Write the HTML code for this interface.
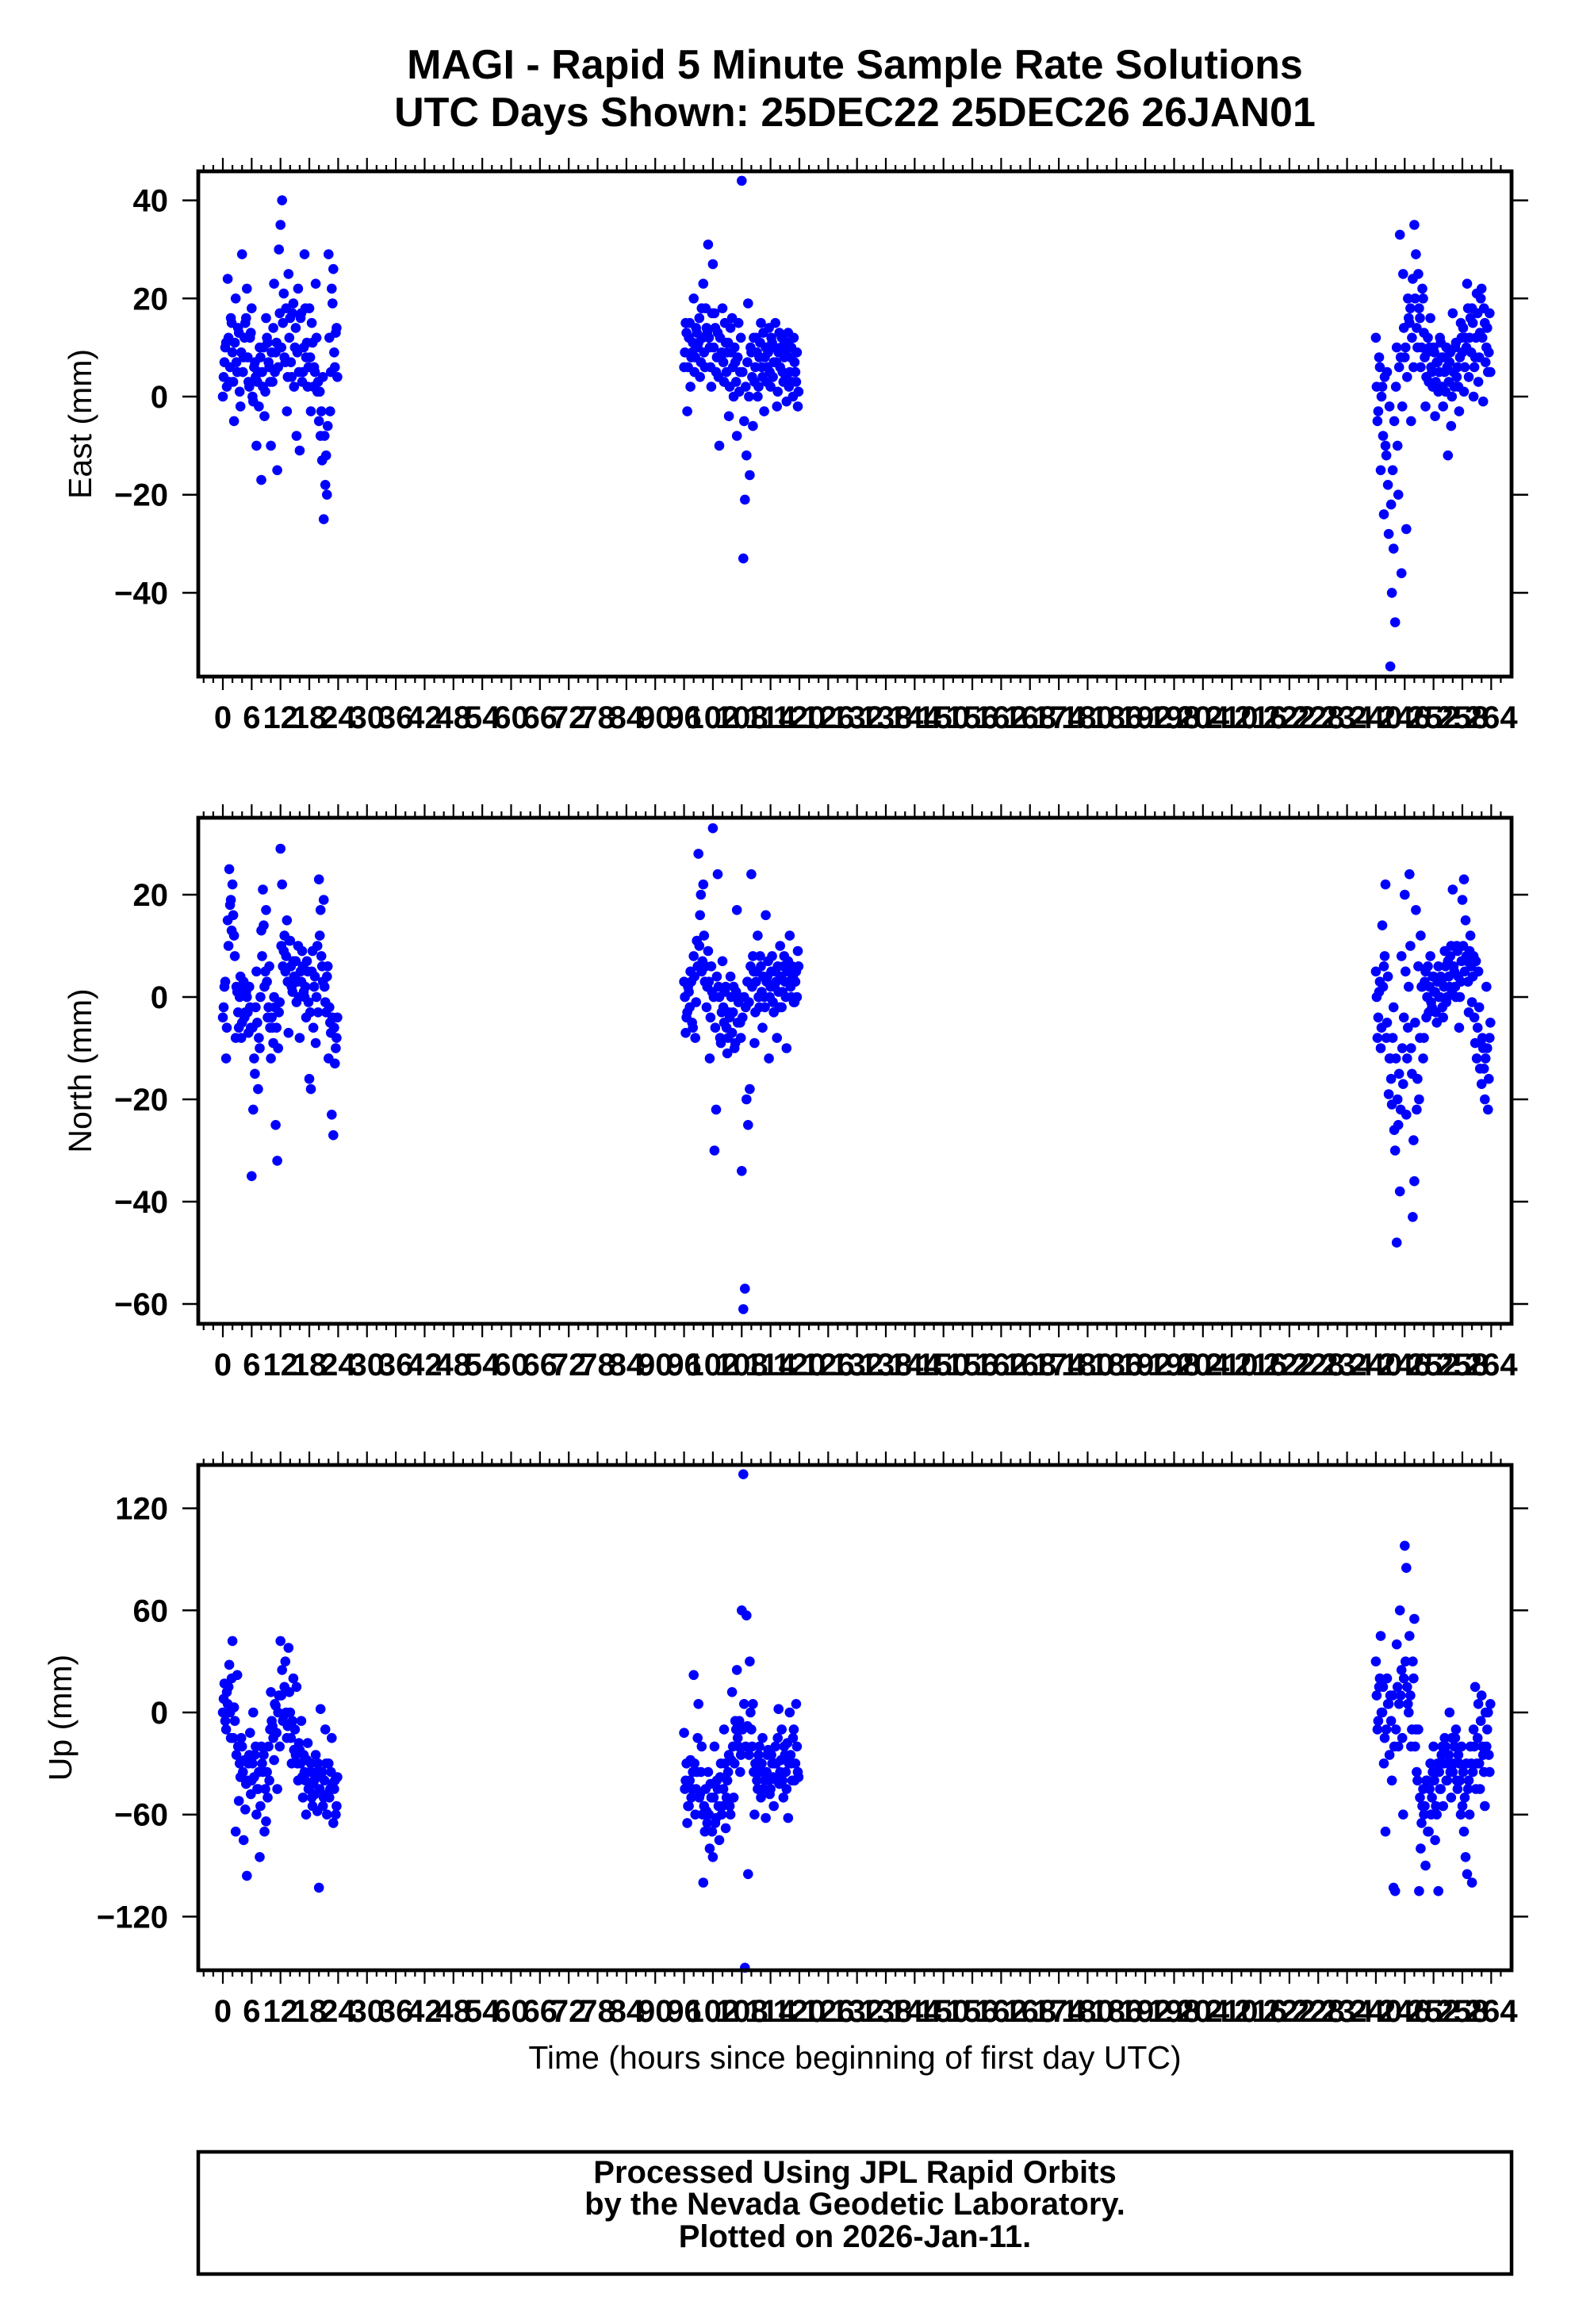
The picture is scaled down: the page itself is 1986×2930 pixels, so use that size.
<!DOCTYPE html>
<html><head><meta charset="utf-8"><style>
html,body{margin:0;padding:0;background:#fff}
svg{display:block}
text{font-family:"Liberation Sans",Arial,sans-serif;fill:#000}
</style></head><body>
<svg id="chart" xmlns="http://www.w3.org/2000/svg" width="1986" height="2930" viewBox="0 0 1986 2930">
<rect width="1986" height="2930" fill="#fff"/>
<text x="1078" y="99" text-anchor="middle" font-size="52" font-weight="bold">MAGI - Rapid 5 Minute Sample Rate Solutions</text>
<text x="1078" y="159" text-anchor="middle" font-size="52" font-weight="bold">UTC Days Shown:  25DEC22 25DEC26 26JAN01</text>
<g id="plots"></g>
<text x="1078" y="2608" text-anchor="middle" font-size="41">Time (hours since beginning of first day UTC)</text>
<rect x="250" y="2713" width="1656" height="154" fill="none" stroke="#000" stroke-width="4.5"/>
<text x="1078" y="2752" text-anchor="middle" font-size="40" font-weight="bold">Processed Using JPL Rapid Orbits</text>
<text x="1078" y="2792" text-anchor="middle" font-size="40" font-weight="bold">by the Nevada Geodetic Laboratory.</text>
<text x="1078" y="2833" text-anchor="middle" font-size="40" font-weight="bold">Plotted on 2026-Jan-11.</text>
</svg>
<script>
// Day start offsets (hours) and epoch hours within a day
const dayStarts = [0, 96, 240];
const hoursOfDay = [0,0.33,0.67,1,1.33,1.67,2,2.33,2.67,3,3.33,3.67,4,4.33,4.67,5,5.33,5.67,6,6.33,6.67,7,7.33,7.67,8,8.33,8.67,9,9.33,9.67,10,10.33,10.67,11,11.33,11.67,12,12.33,12.67,13,13.33,13.67,14,14.33,14.67,15,15.33,15.67,16,16.33,16.67,17,17.33,17.67,18,18.33,18.67,19,19.33,19.67,20,20.33,20.67,21,21.33,21.67,22,22.33,22.67,23,23.33,23.67];
const hoursOfDayB = [0.17,0.5,0.83,1.17,1.5,1.83,2.17,2.5,2.83,3.17,3.5,3.83,4.17,4.5,4.83,5.17,5.5,5.83,6.17,6.5,6.83,7.17,7.5,7.83,8.17,8.5,8.83,9.17,9.5,9.83,10.17,10.5,10.83,11.17,11.5,11.83,12.17,12.5,12.83,13.17,13.5,13.83,14.17,14.5,14.83,15.17,15.5,15.83,16.17,16.5,16.83,17.17,17.5,17.83,18.17,18.5,18.83,19.17,19.5,19.83,20.17,20.5,20.83,21.17,21.5,21.83,22.17,22.5,22.83,23.17,23.5,23.83];
const xTickLabels = [0,6,12,18,24,30,36,42,48,54,60,66,72,78,84,90,96,102,108,114,120,126,132,138,144,150,156,162,168,174,180,186,192,198,204,210,216,222,228,234,240,246,252,258,264];

const eastDay1 = [0,7,11, 24,3,16, 9,-5,20, 5,13,-2, 29,8,15, 22,3,12, 18,-1,7, -10,5,10, -17,2,-4, 16,11,6, -10,3,23, 9,-15,30, 35,40,21, 7,-3,25, 16,4,19, 10,-8,22, -11,17,5, 29,8,2, 18,-3,11, 6,23,1, -5,-8,-13, -25,-18,-20, 29,-3,22, 26,6,14];
const eastDay2 = [6,15,-3, 12,2,9, 20,8,13, 11,4,18, 23,6,14, 31,10,2, 27,17,5, 13,-10,8, 18,3,11, 9,-4,14, 16,0,7, -8,15,5, 44,-33,-21, -12,19,-16, 9,-6,3, 12,0,8, 15,4,-3, 10,6,14, 2,11,7, 15,-2,9, 6,12,3, 9,-1,13, 5,10,0, 7,3,-2];
const eastDay3 = [12,-5,8, -15,2,-24, -10,5,-28, -55,-40,-31, -46,10,-20, 33,-36,25, 8,-27,20, 15,-5,24, 35,29,10, 18,6,22, 13,-2,9, 3,16,5, 10,-4,7, 1,12,8, -2,5,10, -12,7,-6, 17,2,11, 6,-3,15, 9,1,12, 23,4,16, 18,0,8, 21,3,13, 22,-1,15, 10,5,17];
const eastDay1B = [4,10,2, 12,6,15, 3,11,7, 14,1,9, 5,12,16, 8,2,13, 0,6,4, 3,-2,8, 5,10,1, 12,7,3, 9,14,5, 11,6,17, 10,15,8, 18,4,12, 7,17,2, 14,9,5, 16,3,10, 18,11,6, 8,15,2, 5,12,3, 1,-3,4, -8,-12,-6, 12,5,19, 9,13,4];
const eastDay2B = [9,13,6, 15,8,11, 5,14,10, 16,7,12, 9,18,13, 12,6,17, 10,14,8, 4,12,9, 7,15,5, 11,2,9, 6,10,3, 8,1,12, 5,-5,2, 7,0,10, 4,12,6, 9,2,11, 6,13,8, 3,9,5, 12,4,10, 7,1,13, 10,5,8, 4,11,2, 8,3,12, 5,9,1];
const eastDay3B = [2,-3,6, 0,-8,4, -12,-18,-2, -22,-15,-5, 2,-10,6, 8,-2,14, 10,4,16, 18,12,6, 20,14,25, 16,10,20, 8,4,12, 10,6,2, 9,3,7, 5,11,2, 8,1,6, 3,9,0, 5,10,4, 2,8,12, 14,6,10, 18,12,9, 15,6,12, 17,8,20, 12,18,7, 14,9,5];

const northDay1 = [-4,2,-12, 15,25,19, 22,12,-8, 1,-6,4, -5,3,-3, 0,-7,-2, -35,-22,-15, 5,-18,-10, 13,21,2, 17,-4,6, -12,-6,0, -25,-32,-3, 29,22,9, 5,15,-7, 11,2,7, 4,-1,10, -8,3,6, 0,-4,5, -16,-18,9, 2,-9,10, 23,17,6, 19,-1,4, -12,-5,-23, -27,-13,-8];
const northDay2 = [3,-7,-3, 1,5,-5, 8,-8,11, 28,16,5, 22,3,-2, 9,-12,6, 33,-30,-22, 24,0,-9, 7,-5,2, -11,-3,4, -7,2,-9, 17,-1,-5, -34,-61,-57, -20,-25,-18, 24,8,-9, 3,12,-2, 6,-6,0, 16,4,-12, 2,8,-3, 5,-8,1, 10,-2,6, 3,-10,7, 12,0,4, -1,5,9];
const northDay3 = [5,-8,1, -10,14,6, 22,-5,-19, -12,-21,-2, -30,-48,-25, -38,8,-17, 20,-23,-6, 24,-10,-43, -36,17,-16, -20,12,2, -8,5,0, -3,8,-2, 4,1,-5, 6,0,3, -4,9,-1, 7,2,10, 21,5,0, 9,-6,3, 19,23,15, 7,-3,12, -1,8,-9, -12,5,-14, -17,-10,-20, 2,-22,-8];
const northDay1B = [-2,3,-6, 10,18,13, 16,8,2, -3,0,-8, 2,-4,1, -3,2,-6, -6,-12,-2, -5,-8,0, 8,14,5, 3,-2,-6, -4,-9,-2, -6,-10,-1, 10,6,12, 8,3,11, 6,1,4, 7,3,0, 5,9,1, 2,7,-1, -3,5,-6, 4,0,-3, 12,8,3, 2,-3,6, -2,-7,-4, -6,-10,-4];
const northDay2B = [0,-4,2, -2,3,-6, 4,-1,6, 10,20,7, 12,6,2, 3,-4,1, 0,-6,4, 2,-8,-3, -2,1,-6, -8,-4,0, -3,-10,1, -5,0,-8, -4,0,-2, 3,-1,6, 2,5,-3, 5,0,8, 1,4,-2, 3,7,0, 5,-1,2, 3,6,-2, 4,1,8, 0,5,3, 2,6,-1, 3,0,6];
const northDay3B = [0,-4,3, -6,2,8, -8,4,-12, -16,-8,-26, -12,-20,-15, -22,-10,-4, 5,-12,2, 10,-15,-28, -5,-22,6, -8,2,-12, 3,-4,6, 2,-1,4, 1,-3,3, 0,4,-2, 2,6,0, 4,8,1, 6,2,10, 4,0,7, 10,5,8, 3,9,6, 4,-4,7, -6,-2,-9, -8,-14,-12, -10,-16,-5];

const upDay1 = [0,17,-10, 5,28,-15, 42,3,-70, 22,-52,-38, -20,-75,-57, -96,-30,-12, -40,0,-25, -60,-45,-85, -20,-35,-70, -64,-50,-40, 12,-8,-28, 4,-45,10, 42,25,-2, 30,-15,38, 0,-30,20, -10,15,-40, -22,-5,-50, -35,-60,-18, -45,-30,-55, -40,-25,-58, -103,2,-35, -50,-10,-60, -30,-45,-15, -65,-40,-55];
const upDay2 = [-12,-40,-65, -55,-28,-45, 22,-60,-35, 5,-48,-20, -100,-70,-58, -35,-80,-50, -85,-20,-62, -45,-75,-30, -55,-10,-68, -40,-25,-60, 12,-50,-5, 25,-20,-35, 60,140,-150, 57,-95,30, -10,5,-60, -30,-45,-20, -50,-15,-35, -62,-25,-40, -45,-30,-55, -20,-40,2, -35,-10,-50, -25,-45,-62, 0,-30,-15, -40,5,-35];
const upDay3 = [30,-10,15, 45,0,-30, -70,20,5, 10,-40,-103, -105,40,-20, 60,25,-60, 98,85,5, 45,-20,30, 55,-10,-40, -105,-80,-55, -60,-90,-40, -70,-30,-50, -20,-75,-60, -105,-45,-25, -55,-15,-40, -30,0,-50, -35,-20,-10, -45,-30,-60, -55,-70,-85, -95,-40,-20, -100,-10,15, -30,5,-45, 10,-25,-55, -20,0,-35];
const upDay1B = [8,-5,12, 15,0,20, -15,-5,-25, -20,-30,-15, -35,-28,-42, -40,-25,-48, -30,-38,-20, -45,-35,-55, -30,-25,-45, -35,-20,-10, -5,-15,5, -12,0,-20, 10,-5,15, 0,-8,12, -15,-5,-22, -25,-30,-18, -30,-38,-25, -40,-28,-45, -35,-50,-42, -48,-35,-30, -45,-38,-55, -40,-30,-48, -50,-35,-42, -45,-60,-38];
const upDay2B = [-45,-30,-55, -40,-50,-35, -30,-45,-15, -50,-35,-60, -55,-45,-65, -60,-42,-70, -50,-65,-40, -55,-38,-60, -45,-30,-50, -35,-55,-28, -20,-30,-10, -15,-5,-25, -10,5,-20, -8,-25,0, -20,-35,-30, -40,-25,-35, -30,-45,-40, -35,-22,-48, -25,-38,-30, -30,-15,-42, -28,-40,-20, -35,-18,-30, -25,-40,-10, -30,-20,-38];
const upDay3B = [10,-5,20, 0,15,-15, -10,5,-25, -5,10,-20, -10,15,5, 10,-15,20, 30,15,0, 10,-10,20, -20,-35,-10, -50,-65,-45, -55,-40,-70, -45,-60,-35, -40,-55,-30, -35,-45,-20, -30,-20,-40, -25,-35,-15, -30,-15,-40, -25,-40,-20, -35,-50,-30, -45,-60,-30, -35,-20,-45, -15,-30,-5, -20,-35,0, -10,-25,5];

const eastTicks = [40,20,0,-20,-40];
const northTicks = [20,0,-20,-40,-60];
const upTicks = [120,60,0,-60,-120];

const NS = 'http://www.w3.org/2000/svg';
const BOX_L = 250, BOX_R = 1906;
function xScale(h){ return 281 + h*6.058; }
function mk(tag, attrs, parent){
  const e = document.createElementNS(NS, tag);
  for (const k in attrs) e.setAttribute(k, attrs[k]);
  parent.appendChild(e);
  return e;
}
const root = document.getElementById('plots');

const panels = [
  {key:'east', title:'East (mm)', top:216, bot:853, zeroY:500, pxPerMm:6.185, ticks:eastTicks, days:[eastDay1,eastDay2,eastDay3], daysB:[eastDay1B,eastDay2B,eastDay3B], titleX:101},
  {key:'north', title:'North (mm)', top:1031, bot:1669, zeroY:1257, pxPerMm:6.45, ticks:northTicks, days:[northDay1,northDay2,northDay3], daysB:[northDay1B,northDay2B,northDay3B], titleX:101},
  {key:'up', title:'Up (mm)', top:1847, bot:2484, zeroY:2159, pxPerMm:2.145, ticks:upTicks, days:[upDay1,upDay2,upDay3], daysB:[upDay1B,upDay2B,upDay3B], titleX:76}
];

panels.forEach(p => {
  const g = mk('g', {}, root);
  
  
  const yScale = v => p.zeroY - v*p.pxPerMm;

  const pts = mk('g', {fill:'#0000ff'}, g);
  
  
  const drawSet = (sets, hours) => {
    sets.forEach((vals, d) => {
      vals.forEach((v, i) => {
        const c = mk('circle', {cx:xScale(dayStarts[d] + hours[i]).toFixed(1), cy:yScale(v).toFixed(1), r:6.3}, pts);
        
        
      });
    });
  };
  drawSet(p.days, hoursOfDay);
  drawSet(p.daysB, hoursOfDayB);

  const tk = mk('g', {stroke:'#000', 'stroke-width':2.2}, g);
  
  
  for (let h = -4; h <= 266; h += 2) {
    const x = xScale(h);
    if (x < BOX_L || x > BOX_R) continue;
    const len = (h % 6 === 0) ? 17 : 8;
    mk('line', {x1:x, x2:x, y1:p.top, y2:p.top-len}, tk);
    mk('line', {x1:x, x2:x, y1:p.bot, y2:p.bot+len}, tk);
  }
  const xl = mk('g', {'font-size':40, 'font-weight':'bold', 'text-anchor':'middle'}, g);
  
  
  xTickLabels.forEach(h => {
    const t = mk('text', {x:xScale(h), y:p.bot+65}, xl);
    t.textContent = String(h);
  });

  const yl = mk('g', {'font-size':40, 'font-weight':'bold', 'text-anchor':'end'}, g);
  
  
  p.ticks.forEach(v => {
    const y = yScale(v);
    mk('line', {x1:BOX_L-20, x2:BOX_L, y1:y, y2:y, stroke:'#000', 'stroke-width':2.5}, g);
    mk('line', {x1:BOX_R, x2:BOX_R+21, y1:y, y2:y, stroke:'#000', 'stroke-width':2.5}, g);
    const t = mk('text', {x:212, y:y+14}, yl);
    t.textContent = v < 0 ? '\u2212' + Math.abs(v) : String(v);
  });

  const fr = mk('rect', {x:BOX_L, y:p.top, width:BOX_R-BOX_L, height:p.bot-p.top, fill:'none', stroke:'#000', 'stroke-width':4.8}, g);
  
  

  const cy = (p.top + p.bot)/2;
  const yt = mk('text', {x:p.titleX, y:cy, 'font-size':41, 'text-anchor':'middle', 'dominant-baseline':'central', transform:'rotate(-90 '+p.titleX+' '+cy+')'}, g);
  
  
  yt.textContent = p.title;
});
</script>
</body></html>
